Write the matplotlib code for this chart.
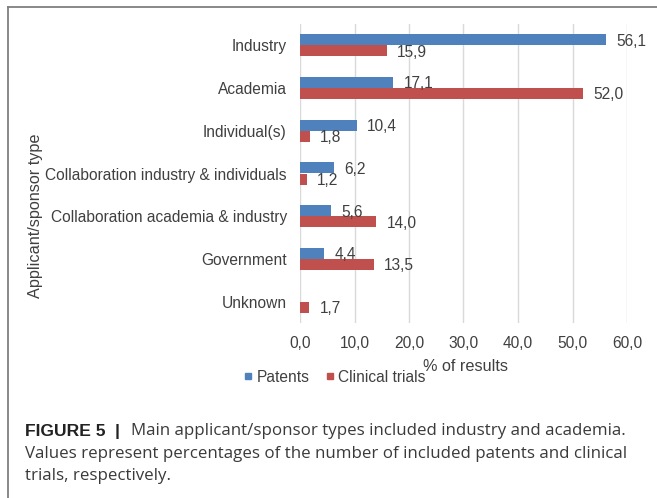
import matplotlib
matplotlib.use("Agg")
import matplotlib.pyplot as plt
import numpy as np
from matplotlib.lines import Line2D
from matplotlib.ticker import FuncFormatter

plt.rcParams['font.family'] = ['Liberation Sans', 'DejaVu Sans']

categories = ["Industry", "Academia", "Individual(s)",
              "Collaboration industry & individuals",
              "Collaboration academia & industry",
              "Government", "Unknown"]
patents = [56.1, 17.1, 10.4, 6.2, 5.6, 4.4, None]
clinical_trials = [15.9, 52.0, 1.8, 1.2, 14.0, 13.5, 1.7]
series_names = ["Patents", "Clinical trials"]
x_ticks = [0, 10, 20, 30, 40, 50, 60]

BLUE = "#4F81BD"
RED = "#C0504D"
TXT = "#404040"
W, H = 657, 498
FS = 11.2

fig = plt.figure(figsize=(W / 100, H / 100), dpi=100)
ax = fig.add_axes([300 / W, (H - 323) / H, 327 / W, 299 / H])

y = np.arange(len(categories))
h = 0.258
pat_vals = np.array([np.nan if v is None else v for v in patents], dtype=float)
ct_vals = np.array(clinical_trials, dtype=float)

ax.barh(y - h / 2, np.nan_to_num(pat_vals), height=h, color=BLUE, zorder=3)
ax.barh(y + h / 2, ct_vals, height=h, color=RED, zorder=3)

def fmt(v):
    return f"{v:.1f}".replace(".", ",")

for yi, v in zip(y, pat_vals):
    if not np.isnan(v):
        ax.annotate(fmt(v), (v, yi - h / 2), xytext=(7.5, -1), textcoords="offset points",
                    ha="left", va="center", fontsize=FS, color=TXT)
for yi, v in zip(y, ct_vals):
    ax.annotate(fmt(v), (v, yi + h / 2), xytext=(7.5, -1), textcoords="offset points",
                ha="left", va="center", fontsize=FS, color=TXT)

ax.set_xlim(x_ticks[0], x_ticks[-1])
ax.set_ylim(len(categories) - 0.5, -0.5)
ax.set_xticks(x_ticks)
ax.xaxis.set_major_formatter(FuncFormatter(lambda v, p: fmt(v)))
ax.set_yticks(y)
ax.set_yticklabels(categories)
ax.tick_params(axis="both", length=0, labelsize=FS, labelcolor=TXT)
ax.tick_params(axis="y", pad=9.5)
ax.tick_params(axis="x", pad=9.2)
ax.grid(axis="x", color="#D9D9D9", linewidth=1.0, zorder=0)
for s in ax.spines.values():
    s.set_visible(False)

ax.set_xlabel("% of results", fontsize=11.7, color=TXT)
ax.xaxis.set_label_coords(0.505, -0.122)
ax.set_ylabel("Applicant/sponsor type", fontsize=11.7, color=TXT)
ax.yaxis.set_label_coords(-0.786, 0.358)

handles = [Line2D([], [], marker="s", linestyle="none", color=BLUE, markersize=5),
           Line2D([], [], marker="s", linestyle="none", color=RED, markersize=5)]
fig.legend(handles, series_names, loc="center", bbox_to_anchor=(334.5 / W, 1 - 377 / H),
           ncol=2, frameon=False, fontsize=FS, handlelength=0.6, handletextpad=0.25,
           columnspacing=1.0, labelcolor=TXT, borderpad=0)

# panel frame lines (top and left)
fig.add_artist(Line2D([7.5 / W, 1], [1 - 7.5 / H, 1 - 7.5 / H], color="#7F7F7F", lw=1.3,
                      transform=fig.transFigure))
fig.add_artist(Line2D([7.5 / W, 7.5 / W], [0, 1 - 7.5 / H], color="#7F7F7F", lw=1.3,
                      transform=fig.transFigure))

# caption
bold_size = 12.6
reg_font = ['Open Sans', 'Liberation Sans', 'DejaVu Sans']
reg_size = 12.2
cap_col = "#3a3a3a"
x0 = 25 / W
b1 = fig.text(x0, 1 - 436 / H, "FIGURE 5", fontsize=bold_size, fontweight="bold",
              color="#222222", va="baseline", ha="left")
bar = ax.annotate("|", xy=(1, 0), xycoords=b1, xytext=(6.5, 0), textcoords="offset points",
                  fontsize=bold_size, fontweight="bold", color="#222222",
                  va="bottom", ha="left", annotation_clip=False)
ax.annotate("Main applicant/sponsor types included industry and academia.",
            xy=(1, 0), xycoords=bar, xytext=(8.5, 0), textcoords="offset points",
            fontsize=reg_size, family=reg_font, color=cap_col, va="bottom", ha="left",
            annotation_clip=False)
fig.text(x0, 1 - 458 / H,
         "Values represent percentages of the number of included patents and clinical",
         fontsize=reg_size, family=reg_font, color=cap_col, va="baseline", ha="left")
fig.text(x0, 1 - 480 / H, "trials, respectively.",
         fontsize=reg_size, family=reg_font, color=cap_col, va="baseline", ha="left")

fig.savefig("out.png", dpi=100)
